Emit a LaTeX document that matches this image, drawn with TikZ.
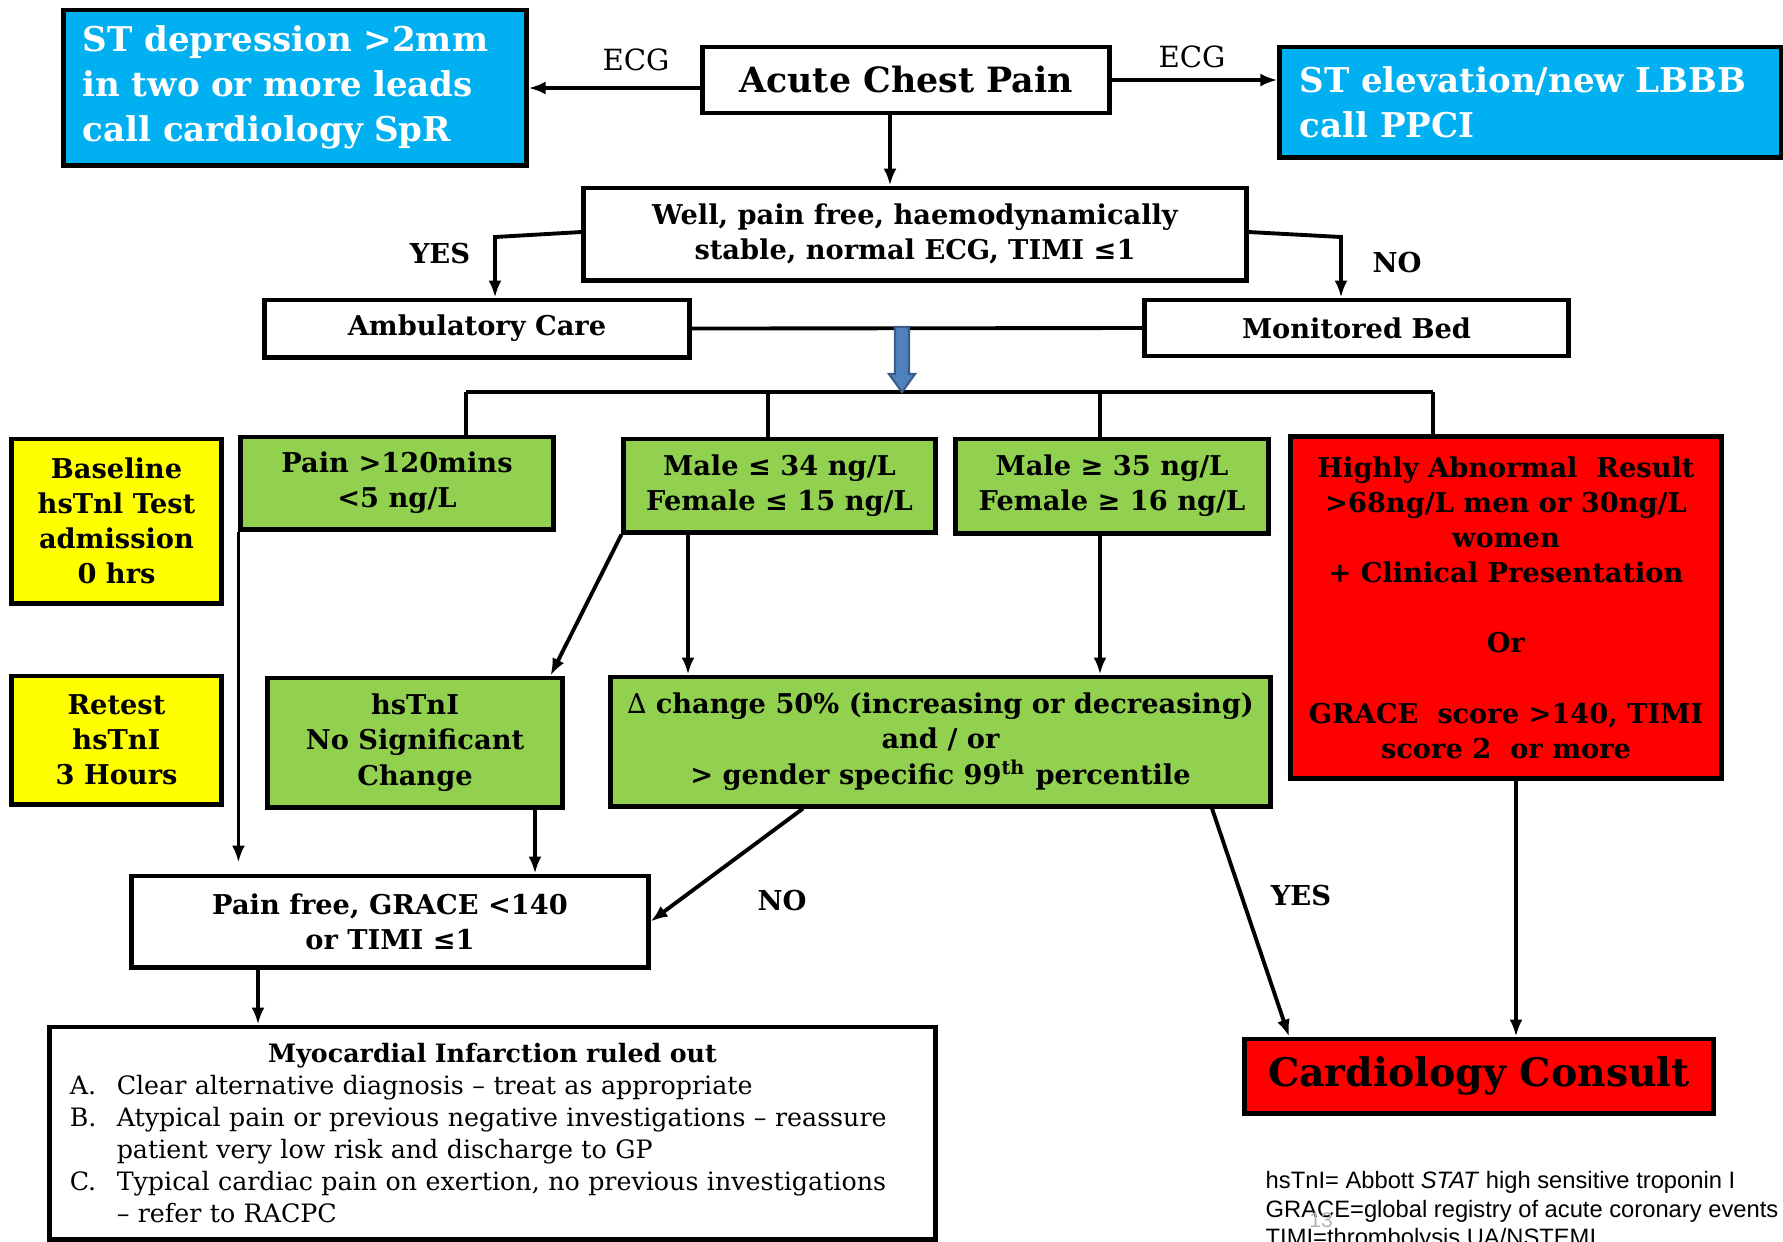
\documentclass[tikz,border=0pt]{standalone}
\usepackage{fontspec}
\setmainfont{DejaVu Serif}
\newfontfamily\notefont{Liberation Sans}
\usepackage{xcolor}
\usetikzlibrary{arrows.meta}

\definecolor{cpblue}{HTML}{00B0F0}
\definecolor{cpgreen}{HTML}{92D050}
\definecolor{cpyellow}{HTML}{FFFF00}
\definecolor{cpred}{HTML}{FF0000}
\definecolor{arrowblue}{HTML}{4F81BD}
\definecolor{arrowedge}{HTML}{385D8A}

\begin{document}
\begin{tikzpicture}[x=0.01cm, y=-0.01cm, >={Latex[length=1.7mm,width=1.3mm]},
  box/.style={draw, line width=1.4pt, inner sep=0pt, align=center,
    font=\fontsize{7.75}{10}\selectfont\bfseries},
  bluebox/.style={box, fill=cpblue, text=white, align=left,
    font=\fontsize{9.7}{12.8}\selectfont\bfseries},
  greenbox/.style={box, fill=cpgreen},
  yellowbox/.style={box, fill=cpyellow},
  redbox/.style={box, fill=cpred},
  link/.style={line width=1.1pt},
  tag/.style={font=\fontsize{7.8}{9}\selectfont\bfseries},
  ecg/.style={font=\fontsize{8.3}{10}\selectfont}]
  \useasboundingbox (0,0) rectangle (1783,1241);

  % top row
  \node[box, font=\fontsize{9.9}{12}\selectfont\bfseries, minimum width=4.06cm, minimum height=0.66cm] (acp) at (906,80) {Acute Chest Pain};
  \node[bluebox, text width=4.24cm, inner xsep=0.19cm, minimum height=1.55cm] (stdep) at (295,87.5) {ST depression >2mm\\in two or more leads\\call cardiology SpR};
  \node[bluebox, text width=4.61cm, inner xsep=0.2cm, minimum height=1.10cm] (stel) at (1530.5,102) {ST elevation/new LBBB\\call PPCI};
  \node[ecg] (ecgl) at (636,60) {ECG};
  \node[ecg] (ecgr) at (1192,57) {ECG};

  \node[box, minimum width=6.62cm, minimum height=0.92cm] (well) at (915,234) {Well, pain free, haemodynamically\\stable, normal ECG, TIMI ≤1};
  \node[box, minimum width=4.24cm, minimum height=0.57cm] (amb) at (477,328.5) {Ambulatory Care};
  \node[box, minimum width=4.23cm, minimum height=0.56cm] (mon) at (1356.5,328) {Monitored Bed};
  \node[tag] (yes1) at (440,253) {YES};
  \node[tag] (no1) at (1397,262) {NO};

  % troponin row
  \node[yellowbox, minimum width=2.09cm, minimum height=1.64cm] (base) at (116.5,521) {Baseline\\hsTnl Test\\admission\\0 hrs};
  \node[greenbox, minimum width=3.12cm, minimum height=0.92cm] (pain) at (397,483) {Pain >120mins\\<5 ng/L};
  \node[greenbox, minimum width=3.11cm, minimum height=0.93cm] (male1) at (779.5,485.5) {Male ≤ 34 ng/L\\Female ≤ 15 ng/L};
  \node[greenbox, minimum width=3.12cm, minimum height=0.94cm] (male2) at (1112,486) {Male ≥ 35 ng/L\\Female ≥ 16 ng/L};
  \node[redbox, minimum width=4.30cm, minimum height=3.41cm] (red) at (1506,607.5) {Highly Abnormal\ \ Result\\>68ng/L men or 30ng/L\\women\\+ Clinical Presentation\\[\baselineskip]Or\\[\baselineskip]GRACE\ \ score >140, TIMI\\score 2\ \ or more};

  % retest row
  \node[yellowbox, minimum width=2.09cm, minimum height=1.28cm] (retest) at (116.5,740) {Retest\\hsTnI\\3 Hours};
  \node[greenbox, minimum width=2.94cm, minimum height=1.29cm] (nosig) at (415,742.5) {hsTnI\\No Significant\\Change};
  \node[greenbox, minimum width=6.59cm, minimum height=1.29cm] (delta) at (940.5,741.5) {{\mdseries ∆} change 50\% (increasing or decreasing)\\and / or\\> gender specific 99\textsuperscript{th} percentile};

  % outcome
  \node[box, minimum width=5.16cm, minimum height=0.91cm] (pfree) at (390,921.5) {Pain free, GRACE <140\\or TIMI ≤1};
  \node[tag] (no2) at (782,900) {NO};
  \node[tag] (yes2) at (1301,895) {YES};
  \node[redbox, font=\fontsize{11.2}{13}\selectfont\bfseries, minimum width=4.68cm, minimum height=0.74cm] (cardio) at (1479,1076) {Cardiology Consult};
  \node[box, font=\fontsize{7.2}{9.1}\selectfont, text width=8.45cm, inner xsep=0.2cm, minimum height=2.12cm, align=left] (mi) at (492.5,1133) {{\centering\bfseries Myocardial Infarction ruled out\par}
    \makebox[0.47cm][l]{A.}Clear alternative diagnosis – treat as appropriate\\
    \makebox[0.47cm][l]{B.}Atypical pain or previous negative investigations – reassure\\
    \hspace*{0.47cm}patient very low risk and discharge to GP\\
    \makebox[0.47cm][l]{C.}Typical cardiac pain on exertion, no previous investigations\\
    \hspace*{0.47cm}– refer to RACPC};

  \node[font=\fontsize{6.75}{8}\selectfont\notefont, align=left, anchor=north west, inner sep=0pt] (notes) at (1265,1171) {hsTnI= Abbott \textit{STAT} high sensitive troponin I\\GRACE=global registry of acute coronary events\\TIMI=thrombolysis UA/NSTEMI};
  \node[font=\fontsize{6}{7}\selectfont\notefont, text=gray!60] (pgnum) at (1321,1220) {13};

  % connectors
  \coordinate (ecgin) at ([yshift=-0.08cm]acp.west);
  \draw[link, ->] (ecgin) -- (ecgin -| stdep.east);
  \draw[link, ->] (acp.east) -- (acp.east -| stel.west);
  \coordinate (acpout) at ([xshift=-0.16cm]acp.south);
  \draw[link, ->] (acpout) -- (acpout |- well.north);
  \draw[link, ->] ([yshift=0.02cm]well.west) -- (495,237) -- (495,237 |- amb.north);
  \draw[link, ->] ([yshift=0.02cm]well.east) -- (1341,237) -- (1341,237 |- mon.north);
  \draw[link] (amb.east) -- (mon.west);

  \draw[link] (466,392) -- (1433,392);   % bus
  \draw[link] (466,392) -- (466,392 |- pain.north);
  \draw[link] (768,392) -- (768,392 |- male1.north);
  \draw[link] (1100,392) -- (1100,392 |- male2.north);
  \draw[link] (1433,392) -- (1433,392 |- red.north);
  \filldraw[fill=arrowblue, draw=arrowedge, line width=0.6pt] (895,327) -- (909,327) -- (909,374) -- (915,374) -- (902,392) -- (889,374) -- (895,374) -- cycle;

  \draw[link, ->, shorten >=0.11cm] (pain.south west) -- (pain.south west |- pfree.north);
  \draw[link, ->] (male1.south west) -- ([xshift=-0.14cm]nosig.north east);
  \draw[link, ->] (male1.south -| 688,0) -- (688,0 |- delta.north);
  \draw[link, ->] (male2.south -| 1100,0) -- (1100,0 |- delta.north);
  \draw[link, ->] (nosig.south -| 535,0) -- (535,0 |- pfree.north);
  \draw[link, ->] (delta.south -| 803,0) -- (pfree.east);
  \draw[link, ->] (delta.south -| 1212,0) -- (cardio.north -| 1289,0);
  \draw[link, ->] (red.south -| 1516,0) -- (1516,0 |- cardio.north);
  \draw[link, ->] (pfree.south -| 258,0) -- (258,0 |- mi.north);
\end{tikzpicture}
\end{document}
